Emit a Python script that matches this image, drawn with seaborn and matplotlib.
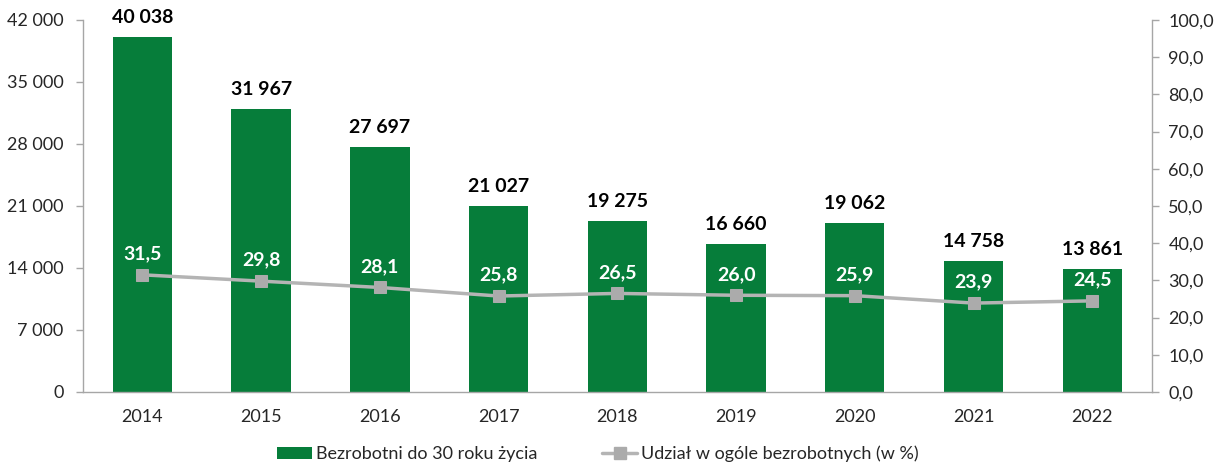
import matplotlib
matplotlib.use("Agg")
import matplotlib.pyplot as plt
import matplotlib.ticker as mticker
from matplotlib.lines import Line2D
from matplotlib.patches import Patch
import numpy as np
import pandas as pd
import seaborn as sns

years = ["2014", "2015", "2016", "2017", "2018", "2019", "2020", "2021", "2022"]
unemployed_under30 = [40038, 31967, 27697, 21027, 19275, 16660, 19062, 14758, 13861]
share_pct = [31.5, 29.8, 28.1, 25.8, 26.5, 26.0, 25.9, 23.9, 24.5]

bar_label = "Bezrobotni do 30 roku życia"
line_label = "Udział w ogóle bezrobotnych (w %)"

GREEN = "#067D3A"
GRAY_LINE = "#B4B4B4"
GRAY_MARK = "#ABABAB"
AXIS_GRAY = "#A6A6A6"

TICK_FS = 13
LABEL_FS = 14

sns.set_theme(style="white")
plt.rcParams["font.family"] = ["Lato", "DejaVu Sans"]

df = pd.DataFrame({"year": years, "count": unemployed_under30, "share": share_pct})
df["pos"] = np.arange(len(df))

fig = plt.figure(figsize=(12.2, 4.67), dpi=100)
ax = fig.add_axes([0.068, 0.1606, 0.876, 0.7966])

sns.barplot(data=df, x="year", y="count", color=GREEN, saturation=1,
            width=0.5, ax=ax, zorder=2)
for p in ax.patches:
    p.set_edgecolor("none")

ax.set_ylim(0, 42000)
ax.set_yticks(np.arange(0, 42001, 7000))
ax.yaxis.set_major_formatter(mticker.FuncFormatter(
    lambda v, _: f"{int(v):,}".replace(",", " ")))
ax.set_xlim(-0.5, len(years) - 0.5)
ax.set_xlabel("")
ax.set_ylabel("")

# value labels above bars
for i, v in enumerate(unemployed_under30):
    ax.annotate(f"{v:,}".replace(",", " "), (i, v), xytext=(0, 8),
                textcoords="offset points", ha="center", va="bottom",
                fontsize=LABEL_FS, fontweight="bold", color="black")

# category ticks between bars
ax.set_xticks(np.arange(len(years)))
ax.set_xticklabels(years, fontsize=TICK_FS)
ax.tick_params(axis="x", which="major", length=0, pad=12)
ax.set_xticks(np.arange(-0.5, len(years), 1), minor=True)
ax.tick_params(axis="x", which="minor", length=5, color=AXIS_GRAY, width=1,
               direction="out")
ax.tick_params(axis="y", length=5, color=AXIS_GRAY, width=1, direction="out",
               labelsize=TICK_FS, pad=9)

for s in ["top", "right"]:
    ax.spines[s].set_visible(False)
for s in ["left", "bottom"]:
    ax.spines[s].set_color(AXIS_GRAY)
    ax.spines[s].set_linewidth(1)

ax2 = ax.twinx()
sns.lineplot(data=df, x="pos", y="share", ax=ax2, color=GRAY_LINE,
             linewidth=2.5, marker="s", markersize=9,
             markerfacecolor=GRAY_MARK, markeredgecolor=GRAY_MARK, zorder=3)
ax2.set_ylim(0, 100)
ax2.set_yticks(np.arange(0, 100.1, 10))
ax2.yaxis.set_major_formatter(mticker.FuncFormatter(
    lambda v, _: f"{v:.1f}".replace(".", ",")))
ax2.set_xlim(-0.5, len(years) - 0.5)
ax2.set_xlabel("")
ax2.set_ylabel("")
ax2.tick_params(axis="y", length=5, color=AXIS_GRAY, width=1, direction="out",
                labelsize=TICK_FS, pad=7)
for s in ["top", "left", "bottom"]:
    ax2.spines[s].set_visible(False)
ax2.spines["right"].set_color(AXIS_GRAY)
ax2.spines["right"].set_linewidth(1)

for i, v in enumerate(share_pct):
    ax2.annotate(f"{v:.1f}".replace(".", ","), (i, v), xytext=(0, 9),
                 textcoords="offset points", ha="center", va="bottom",
                 fontsize=LABEL_FS, fontweight="bold", color="white")

handles = [
    Patch(facecolor=GREEN, edgecolor="none"),
    Line2D([0], [0], color=GRAY_LINE, linewidth=2.5, marker="s",
           markersize=8, markerfacecolor=GRAY_MARK, markeredgecolor=GRAY_MARK),
]
fig.legend(handles, [bar_label, line_label], loc="lower center",
           bbox_to_anchor=(0.49, -0.025), ncol=2, frameon=False,
           fontsize=TICK_FS, handlelength=1.95, handletextpad=0.2,
           columnspacing=3.6)

fig.savefig("out.png", dpi=100)
